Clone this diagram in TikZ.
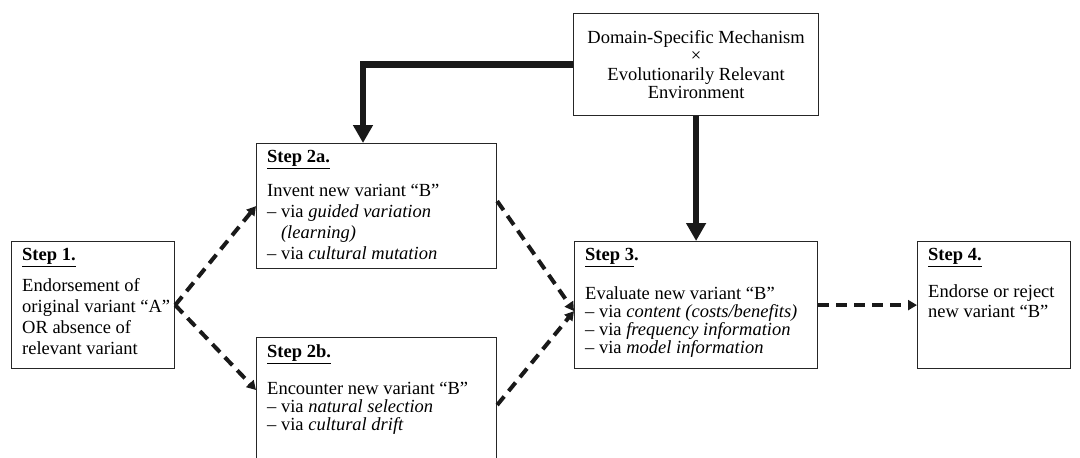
\documentclass[tikz,border=0pt]{standalone}
\usepackage{fontspec}
\setmainfont{Liberation Serif}
\usetikzlibrary{arrows.meta, positioning}

\begin{document}
\begin{tikzpicture}[
    x=1pt, y=-1pt,
    box/.style={rectangle, draw=black!85, line width=1.2pt, inner sep=0pt, anchor=north west},
    boxtext/.style={anchor=north west, align=left, inner xsep=11pt, inner ysep=7.5pt, font=\fontsize{18.5}{#1}\selectfont},
    thickarrow/.style={-{Triangle[width=19pt, length=18pt]}, line width=6.5pt, black!90},
    dasharrow/.style={-{Triangle[width=10pt, length=9pt]}, line width=4pt, dash pattern=on 11pt off 7pt, black!90}
]

\path[use as bounding box, fill=white] (0,0) rectangle (1080,458);
\clip (0,0) rectangle (1080,458);

% Boxes
\node[box, minimum width=245pt, minimum height=102pt, align=center, font=\fontsize{18.5}{18.5}\selectfont] (mech) at (573,13)
    {Domain-Specific Mechanism\\ ×\\ Evolutionarily Relevant\\ Environment};
\node[box, minimum width=163pt, minimum height=127pt] (step1) at (11,241) {};
\node[box, minimum width=240pt, minimum height=125pt] (step2a) at (256,143) {};
\node[box, minimum width=240pt, minimum height=140pt] (step2b) at (256,337) {};
\node[box, minimum width=243pt, minimum height=127pt] (step3) at (574,241) {};
\node[box, minimum width=153pt, minimum height=127pt] (step4) at (917,241) {};

% Box texts
\node[boxtext=21] (step1_txt) at (step1.north west) {\underline{\textbf{Step 1.}}\\[10pt]
    Endorsement of\\ original variant “A”\\ OR absence of\\ relevant variant};
\node[boxtext=21] (step2a_txt) at (step2a.north west) {\underline{\textbf{Step 2a.}}\\[13pt]
    Invent new variant “B”\\ – via \textit{guided variation}\\ \hphantom{– }\textit{(learning)}\\ – via \textit{cultural mutation}};
\node[boxtext=18] (step2b_txt) at (step2b.north west) {\underline{\textbf{Step 2b.}}\\[18pt]
    Encounter new variant “B”\\ – via \textit{natural selection}\\ – via \textit{cultural drift}};
\node[boxtext=18] (step3_txt) at (step3.north west) {\underline{\textbf{Step 3}}\textbf{.}\\[19pt]
    Evaluate new variant “B”\\ – via \textit{content (costs/benefits)}\\ – via \textit{frequency information}\\ – via \textit{model information}};
\node[boxtext=20] (step4_txt) at (step4.north west) {\underline{\textbf{Step 4.}}\\[17pt]
    Endorse or reject\\ new variant “B”};

% Influence of the mechanism
\draw[thickarrow] (mech.west) -| ([xshift=107pt]step2a.north west);
\draw[thickarrow] (mech.south) -- (step3.north);

% Steps
\draw[dasharrow] (step1.east) -- (step2a.west);
\draw[dasharrow] (step1.east) -- ([yshift=-53pt]step2b.north west);
\draw[dasharrow] ([yshift=5pt]step2a.east) -- ([yshift=-6pt]step3.west);
\draw[dasharrow] ([yshift=-68pt]step2b.north east) -- ([yshift=-6pt]step3.west);
\draw[dasharrow] (step3.east) -- (step4.west);

\end{tikzpicture}
\end{document}
